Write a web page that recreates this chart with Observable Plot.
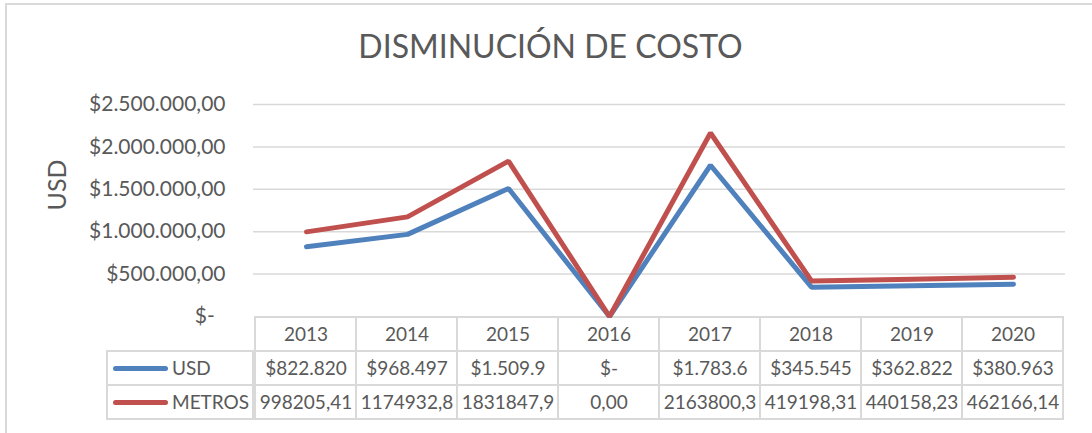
<!DOCTYPE html>
<html><head><meta charset="utf-8">
<script src="https://cdn.jsdelivr.net/npm/d3@7"></script>
<script src="https://cdn.jsdelivr.net/npm/@observablehq/plot@0.6"></script>
<style>
html,body{margin:0;padding:0;background:#fff;overflow:hidden}
#chart{position:relative;width:1092px;height:433px;overflow:hidden;font-family:Lato,sans-serif;color:#595959;background:#fff}
#frame{position:absolute;left:5px;top:3px;width:1200px;height:600px;border:2px solid #d9d9d9;box-sizing:border-box}
#title{position:absolute;left:0;width:1101px;top:30px;text-align:center;font-size:32px;line-height:32px;white-space:nowrap}
.abs{position:absolute;left:0;top:0}
.leg{position:absolute;left:106px;width:148px;height:36px;border:2px solid #d9d9d9;box-sizing:border-box;background:#fff}
.sw{position:absolute;left:5px;width:55px;height:5px;border-radius:3px;top:13.5px}
.lt{position:absolute;left:64px;top:0;line-height:32px;font-size:19px;color:#595959}
</style></head><body>
<div id="chart"><div id="frame"></div><div id="title">DISMINUCIÓN DE COSTO</div></div>
<script>
const years = ["2013","2014","2015","2016","2017","2018","2019","2020"];
const usd = [822820, 968497, 1509900, 0, 1783600, 345545, 362822, 380963];
const metros = [998205.41, 1174932.8, 1831847.9, 0, 2163800.3, 419198.31, 440158.23, 462166.14];
const usdLabels = ["$822.820","$968.497","$1.509.9","$-","$1.783.6","$345.545","$362.822","$380.963"];
const metrosLabels = ["998205,41","1174932,8","1831847,9","0,00","2163800,3","419198,31","440158,23","462166,14"];
const yTicks = [0, 500000, 1000000, 1500000, 2000000, 2500000];
const seriesNames = ["USD", "METROS"];
const seriesColors = ["#4f81bd", "#c0504d"];
const yLabel = "USD";

const chart = document.getElementById("chart");
const loc = d3.formatLocale({decimal: ",", thousands: ".", grouping: [3], currency: ["$", ""]});
const money = loc.format("$,.2f");
const tickFmt = d => d === 0 ? "$-\u00a0\u00a0" : money(d);

// table
const rows = ["year", ...seriesNames];
const tableData = [];
years.forEach((y, i) => {
  tableData.push({year: y, row: "year", label: y});
  tableData.push({year: y, row: seriesNames[0], label: usdLabels[i]});
  tableData.push({year: y, row: seriesNames[1], label: metrosLabels[i]});
});
const table = Plot.plot({
  width: 1092, height: 102, marginLeft: 253, marginRight: 27, marginTop: 0, marginBottom: 0,
  x: {type: "band", domain: years, padding: 0, axis: null},
  y: {type: "band", domain: rows, padding: 0, axis: null},
  style: {fontFamily: "Lato, sans-serif", fontSize: "19px", color: "#595959", background: "transparent", overflow: "visible"},
  marks: [
    Plot.cell(tableData, {x: "year", y: "row", fill: "white", stroke: "#d9d9d9", strokeWidth: 2, inset: 0}),
    Plot.text(tableData, {x: "year", y: "row", text: "label", fill: "#595959", fontSize: 19})
  ]
});
table.classList.add("abs");
table.style.top = "317px";
chart.appendChild(table);

// legend column
seriesNames.forEach((s, k) => {
  const d = document.createElement("div");
  d.className = "leg";
  d.style.top = (350 + 34 * k) + "px";
  d.innerHTML = `<span class="sw" style="background:${seriesColors[k]}"></span><span class="lt">${s}</span>`;
  chart.appendChild(d);
});

// main chart
const lineData = [];
seriesNames.forEach((s, k) => years.forEach((y, i) => lineData.push({year: y, series: s, value: (k === 0 ? usd : metros)[i]})));
const main = Plot.plot({
  width: 1092, height: 318, marginLeft: 253, marginRight: 27, marginTop: 104, marginBottom: 2,
  x: {type: "point", domain: years, padding: 0.5, axis: null},
  y: {domain: [0, 2500000]},
  color: {domain: seriesNames, range: seriesColors},
  style: {fontFamily: "Lato, sans-serif", fontSize: "21px", color: "#595959", background: "transparent", overflow: "visible"},
  marks: [
    Plot.gridY(yTicks.filter(d => d > 0), {stroke: "#d9d9d9", strokeOpacity: 1, strokeWidth: 1.5}),
    Plot.axisY(yTicks, {tickSize: 0, tickPadding: 28, tickFormat: tickFmt, fontSize: 21, fill: "#595959", label: null}),
    Plot.text([yLabel], {frameAnchor: "left", dx: -196, rotate: -90, fontSize: 25, fill: "#595959"}),
    Plot.line(lineData, {x: "year", y: "value", z: "series", stroke: "series", strokeWidth: 5, strokeLinejoin: "miter", strokeLinecap: "round"})
  ]
});
main.classList.add("abs");
chart.appendChild(main);
</script>
</body></html>
